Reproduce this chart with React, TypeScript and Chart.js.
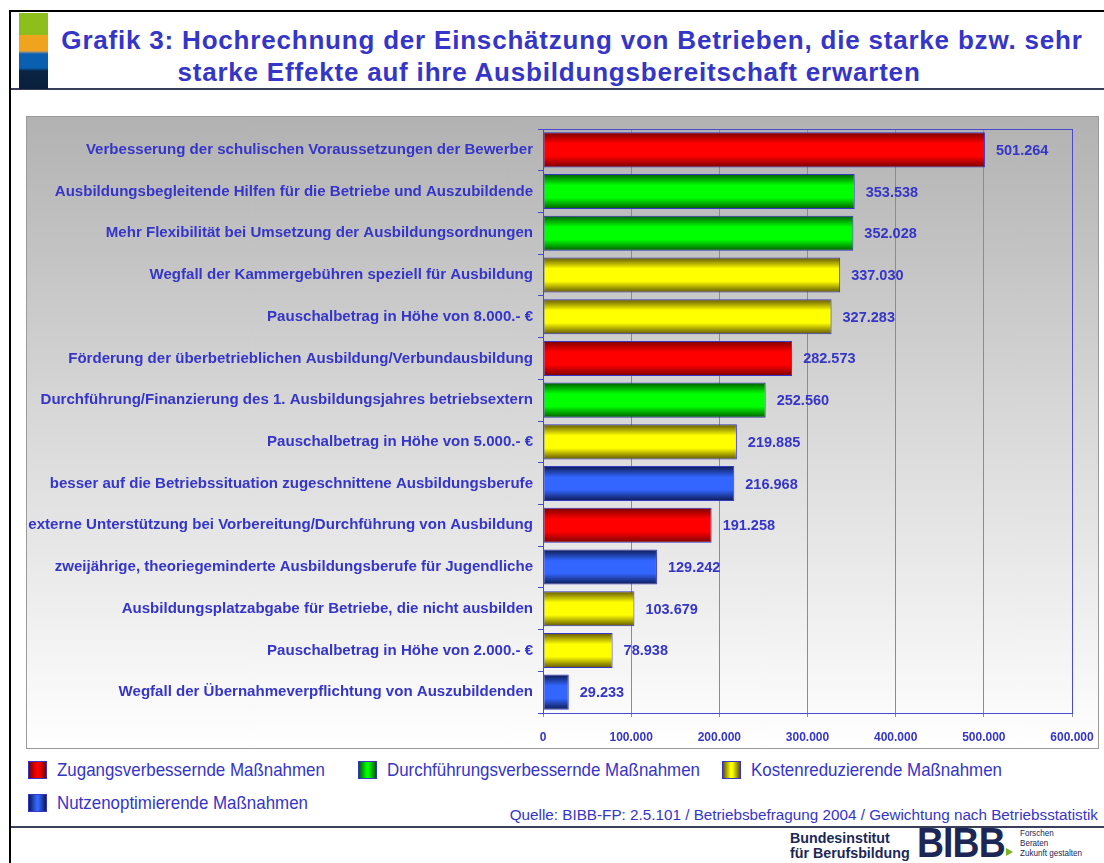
import React, { useEffect, useRef } from "react";
import { Chart, registerables } from "chart.js";

Chart.register(...registerables);

const categories: string[] = [
  "Verbesserung der schulischen Voraussetzungen der Bewerber",
  "Ausbildungsbegleitende Hilfen für die Betriebe und Auszubildende",
  "Mehr Flexibilität bei Umsetzung der Ausbildungsordnungen",
  "Wegfall der Kammergebühren speziell für Ausbildung",
  "Pauschalbetrag in Höhe von 8.000.- €",
  "Förderung der überbetrieblichen Ausbildung/Verbundausbildung",
  "Durchführung/Finanzierung des 1. Ausbildungsjahres betriebsextern",
  "Pauschalbetrag in Höhe von 5.000.- €",
  "besser auf die Betriebssituation zugeschnittene Ausbildungsberufe",
  "externe Unterstützung bei Vorbereitung/Durchführung von Ausbildung",
  "zweijährige, theoriegeminderte Ausbildungsberufe für Jugendliche",
  "Ausbildungsplatzabgabe für Betriebe, die nicht ausbilden",
  "Pauschalbetrag in Höhe von 2.000.- €",
  "Wegfall der Übernahmeverpflichtung von Auszubildenden",
];

const values: number[] = [
  501264, 353538, 352028, 337030, 327283, 282573, 252560, 219885, 216968,
  191258, 129242, 103679, 78938, 29233,
];

// group index per bar: 0 Zugang, 1 Durchführung, 2 Kosten, 3 Nutzen
const groups: number[] = [0, 1, 1, 2, 2, 0, 1, 2, 3, 0, 3, 2, 2, 3];

const groupNames: string[] = [
  "Zugangsverbessernde Maßnahmen",
  "Durchführungsverbessernde Maßnahmen",
  "Kostenreduzierende Maßnahmen",
  "Nutzenoptimierende Maßnahmen",
];

const xTicks: number[] = [0, 100000, 200000, 300000, 400000, 500000, 600000];

const groupDark: string[] = ["#7a0000", "#005a00", "#5e5400", "#0c1a4e"];
const groupBright: string[] = ["#ff0000", "#00ff00", "#ffff00", "#3366ff"];

const BLUE = "#3535c8";
const FONT = "'Liberation Sans', Arial, Helvetica, sans-serif";

function fmt(v: number): string {
  return String(Math.round(v)).replace(/\B(?=(\d{3})+(?!\d))/g, ".");
}

const valueLabelPlugin = {
  id: "valueLabels",
  afterDatasetsDraw(chart: any) {
    const ctx = chart.ctx;
    const meta = chart.getDatasetMeta(0);
    ctx.save();
    ctx.font = `bold 14.5px ${FONT}`;
    ctx.fillStyle = BLUE;
    ctx.textAlign = "left";
    ctx.textBaseline = "middle";
    meta.data.forEach((el: any, i: number) => {
      ctx.fillText(fmt(values[i]), el.x + 11, el.y + 1);
    });
    ctx.restore();
  },
};

const framePlugin = {
  id: "plotFrame",
  afterDraw(chart: any) {
    const { ctx, chartArea } = chart;
    ctx.save();
    ctx.strokeStyle = "#4a4ad0";
    ctx.lineWidth = 1;
    ctx.strokeRect(
      Math.round(chartArea.left) + 0.5,
      Math.round(chartArea.top) + 0.5,
      Math.round(chartArea.right - chartArea.left),
      Math.round(chartArea.bottom - chartArea.top)
    );
    ctx.restore();
  },
};

function ChartPanel() {
  const ref = useRef<HTMLCanvasElement | null>(null);
  useEffect(() => {
    if (!ref.current) return;
    const BAR_PCT = 0.84;
    const chart = new Chart(ref.current, {
      type: "bar",
      data: {
        labels: categories,
        datasets: [
          {
            data: values,
            borderColor: BLUE,
            borderWidth: 1,
            borderSkipped: false,
            barPercentage: BAR_PCT,
            categoryPercentage: 1,
            backgroundColor: (c: any) => {
              const g = groups[c.dataIndex] ?? 0;
              const chartI = c.chart;
              const ys = chartI.scales && chartI.scales.y;
              if (!ys || c.type !== "data" || !ys.height) return groupBright[g];
              const center = ys.getPixelForValue(c.dataIndex);
              const band = ys.height / categories.length;
              const h = band * BAR_PCT;
              const grad = chartI.ctx.createLinearGradient(0, center - h / 2, 0, center + h / 2);
              grad.addColorStop(0, groupDark[g]);
              grad.addColorStop(0.32, groupBright[g]);
              grad.addColorStop(0.68, groupBright[g]);
              grad.addColorStop(1, groupDark[g]);
              return grad;
            },
          } as any,
        ],
      },
      options: {
        indexAxis: "y",
        responsive: false,
        animation: false,
        layout: { padding: { left: 0, top: 13, right: 27, bottom: 0 } },
        plugins: {
          legend: { display: false },
          tooltip: { enabled: false },
          title: { display: false },
        },
        scales: {
          x: {
            type: "linear",
            min: 0,
            max: 600000,
            afterBuildTicks: (scale: any) => {
              scale.ticks = xTicks.map((v) => ({ value: v }));
            },
            afterFit: (scale: any) => {
              scale.height = 36;
              scale.paddingLeft = 0;
              scale.paddingRight = 0;
            },
            ticks: {
              color: BLUE,
              font: { family: FONT, size: 12, weight: "bold" },
              padding: 13,
              maxRotation: 0,
              callback: (v: any) => fmt(Number(v)),
            },
            grid: {
              color: "#8c8c8c",
              lineWidth: 1,
              drawTicks: true,
              tickLength: 4,
              tickColor: "#8c8c8c",
            },
            border: { display: true, color: "#4a4ad0", width: 1 },
          },
          y: {
            type: "category",
            afterFit: (scale: any) => {
              scale.width = 517;
              scale.paddingTop = 0;
              scale.paddingBottom = 0;
            },
            ticks: {
              color: BLUE,
              font: { family: FONT, size: 15.05, weight: "bold" },
              padding: 5,
              autoSkip: false,
            },
            grid: {
              offset: true,
              drawOnChartArea: false,
              drawTicks: true,
              tickLength: 5,
              color: "#4a4ad0",
            },
            border: { display: true, color: "#4a4ad0", width: 1 },
          },
        },
      } as any,
      plugins: [valueLabelPlugin, framePlugin],
    });
    return () => chart.destroy();
  }, []);
  return (
    <canvas
      ref={ref}
      width={1073}
      height={633}
      style={{ position: "absolute", left: 26, top: 116, width: 1073, height: 633 }}
    />
  );
}

function LegendItem({ g, x, y }: { g: number; x: number; y: number }) {
  return (
    <div style={{ position: "absolute", left: x, top: y, whiteSpace: "nowrap", height: 20 }}>
      <div
        style={{
          position: "absolute",
          left: 0,
          top: 1,
          width: 19,
          height: 18,
          boxSizing: "border-box",
          border: `1px solid ${BLUE}`,
          background: `linear-gradient(90deg, ${groupDark[g]} 0%, ${groupBright[g]} 45%, ${groupBright[g]} 55%, ${groupDark[g]} 100%)`,
        }}
      />
      <span
        style={{
          position: "absolute",
          left: 29,
          top: 0,
          fontFamily: FONT,
          fontSize: 19,
          color: BLUE,
          lineHeight: "20px",
          transform: "scaleX(0.89)",
          transformOrigin: "0 0",
          display: "inline-block",
        }}
      >
        {groupNames[g]}
      </span>
    </div>
  );
}

export default function App() {
  return (
    <div
      style={{
        position: "fixed",
        left: 0,
        top: 0,
        width: 1104,
        height: 863,
        background: "#ffffff",
        overflow: "hidden",
        fontFamily: FONT,
      }}
    >
      {/* frame lines */}
      <div style={{ position: "absolute", left: 9, top: 10, width: 1095, height: 2, background: "#000" }} />
      <div style={{ position: "absolute", left: 9, top: 10, width: 2, height: 853, background: "#000" }} />
      <div style={{ position: "absolute", left: 11, top: 88, width: 1093, height: 2, background: "#3a3f5c" }} />
      <div style={{ position: "absolute", left: 11, top: 826, width: 1093, height: 2, background: "#3a3f5c" }} />
      {/* colour strip */}
      <div
        style={{
          position: "absolute",
          left: 19,
          top: 13,
          width: 29,
          height: 76,
          background:
            "linear-gradient(180deg, #8cbf1c 0px, #8cbf1c 22px, #f0a41e 22px, #f0a41e 38px, #8a8a8a 39px, #0a5fb0 41px, #0a5fb0 55px, #0a2444 58px, #0a1f3c 76px)",
        }}
      />
      {/* title */}
      <div
        style={{
          position: "absolute",
          left: 0,
          top: 25,
          width: 1144,
          textAlign: "center",
          fontFamily: FONT,
          fontWeight: "bold",
          fontSize: 26,
          letterSpacing: 0.8,
          lineHeight: "30px",
          color: BLUE,
          whiteSpace: "nowrap",
        }}
      >
        Grafik 3: Hochrechnung der Einschätzung von Betrieben, die starke bzw. sehr
      </div>
      <div
        style={{
          position: "absolute",
          left: 0,
          top: 57,
          width: 1098,
          textAlign: "center",
          fontFamily: FONT,
          fontWeight: "bold",
          fontSize: 26,
          letterSpacing: 0.8,
          lineHeight: "30px",
          color: BLUE,
          whiteSpace: "nowrap",
        }}
      >
        starke Effekte auf ihre Ausbildungsbereitschaft erwarten
      </div>
      {/* chart panel */}
      <div
        style={{
          position: "absolute",
          left: 26,
          top: 116,
          width: 1073,
          height: 633,
          boxSizing: "border-box",
          border: "1px solid #9a9a9a",
          background: "linear-gradient(180deg, #b2b2b2 0%, #d6d6d6 45%, #ffffff 100%)",
        }}
      />
      <ChartPanel />
      {/* legend */}
      <LegendItem g={0} x={28} y={760} />
      <LegendItem g={1} x={358} y={760} />
      <LegendItem g={2} x={722} y={760} />
      <LegendItem g={3} x={28} y={793} />
      {/* source */}
      <div
        style={{
          position: "absolute",
          right: 6,
          top: 806,
          fontFamily: FONT,
          fontSize: 15.25,
          lineHeight: "18px",
          color: BLUE,
          whiteSpace: "nowrap",
        }}
      >
        Quelle: BIBB-FP: 2.5.101 / Betriebsbefragung 2004 / Gewichtung nach Betriebsstatistik
      </div>
      {/* logo */}
      <div
        style={{
          position: "absolute",
          left: 790,
          top: 830,
          fontFamily: FONT,
          fontWeight: "bold",
          fontSize: 15.5,
          lineHeight: "15px",
          color: "#1c2756",
          whiteSpace: "nowrap",
          transform: "scaleX(0.92)",
          transformOrigin: "0 0",
        }}
      >
        Bundesinstitut
        <br />
        für Berufsbildung
      </div>
      <div
        style={{
          position: "absolute",
          left: 917,
          top: 821,
          fontFamily: FONT,
          fontWeight: "bold",
          fontSize: 42,
          lineHeight: "44px",
          color: "#1c2756",
          letterSpacing: -1,
          whiteSpace: "nowrap",
          transform: "scaleX(0.89)",
          transformOrigin: "0 0",
        }}
      >
        BIBB
      </div>
      <div
        style={{
          position: "absolute",
          left: 1006,
          top: 848,
          width: 0,
          height: 0,
          borderTop: "4px solid transparent",
          borderBottom: "4px solid transparent",
          borderLeft: "7px solid #7ab51d",
        }}
      />
      <div
        style={{
          position: "absolute",
          left: 1020,
          top: 828,
          fontFamily: FONT,
          fontSize: 9.5,
          lineHeight: "10px",
          color: "#1c2756",
          whiteSpace: "nowrap",
          transform: "scaleX(0.85)",
          transformOrigin: "0 0",
        }}
      >
        Forschen
        <br />
        Beraten
        <br />
        Zukunft gestalten
      </div>
    </div>
  );
}
